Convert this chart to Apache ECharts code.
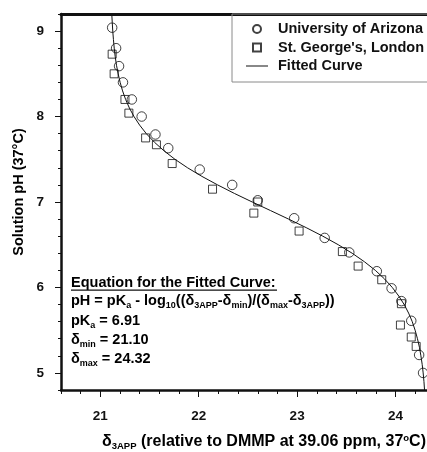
<!DOCTYPE html>
<html>
<head>
<meta charset="utf-8">
<script src="https://cdn.jsdelivr.net/npm/echarts@6/dist/echarts.min.js"></script>
<style>
  html, body { margin: 0; padding: 0; background: #ffffff; }
  #chart { width: 427px; height: 452px; }
</style>
</head>
<body>
<div id="chart"></div>
<script>
// 3APP chemical shift (ppm) vs. solution pH at 37 °C
const arizonaShift = [21.12, 21.16, 21.19, 21.23, 21.32, 21.42, 21.56, 21.69, 22.01, 22.34,
                      22.60, 22.97, 23.28, 23.53, 23.81, 23.96, 24.06, 24.16, 24.24, 24.28];
const arizonaPH    = [9.04, 8.80, 8.59, 8.40, 8.20, 8.00, 7.79, 7.63, 7.38, 7.20,
                      7.02, 6.81, 6.58, 6.41, 6.19, 5.99, 5.84, 5.61, 5.21, 5.00];

const londonShift  = [21.12, 21.14, 21.25, 21.29, 21.46, 21.57, 21.73, 22.14, 22.56, 22.60,
                      23.02, 23.46, 23.62, 23.86, 24.06, 24.05, 24.16, 24.21];
const londonPH     = [8.73, 8.50, 8.20, 8.04, 7.75, 7.67, 7.45, 7.15, 6.87, 7.00,
                      6.66, 6.42, 6.25, 6.09, 5.81, 5.56, 5.42, 5.31];

// fitted titration curve (pKa 6.91, δmin 21.10, δmax 24.32)
const curveShift = [21.116, 21.121, 21.126, 21.133, 21.141, 21.151, 21.164, 21.181, 21.201, 21.226,
                    21.257, 21.295, 21.342, 21.399, 21.467, 21.549, 21.646, 21.758, 21.887, 22.032,
                    22.192, 22.363, 22.544, 22.729, 22.913, 23.092, 23.261, 23.418, 23.560, 23.685,
                    23.795, 23.888, 23.967, 24.033, 24.088, 24.133, 24.170, 24.199, 24.223, 24.243,
                    24.258, 24.271, 24.281, 24.289, 24.295];
const curvePH    = [9.2, 9.1, 9.0, 8.9, 8.8, 8.7, 8.6, 8.5, 8.4, 8.3,
                    8.2, 8.1, 8.0, 7.9, 7.8, 7.7, 7.6, 7.5, 7.4, 7.3,
                    7.2, 7.1, 7.0, 6.9, 6.8, 6.7, 6.6, 6.5, 6.4, 6.3,
                    6.2, 6.1, 6.0, 5.9, 5.8, 5.7, 5.6, 5.5, 5.4, 5.3,
                    5.2, 5.1, 5.0, 4.9, 4.8];

const xMajorTicks = [21, 22, 23, 24];
const yMajorTicks = [5, 6, 7, 8, 9];
const seriesNames = ['University of Arizona', "St. George's, London", 'Fitted Curve'];

const FONT = '"Liberation Sans", Arial, Helvetica, sans-serif';
const INK = '#111111';

const pairs = (xs, ys) => xs.map((x, i) => [x, ys[i]]);

const xRange = { min: 20.6, max: 24.32 };
const yRange = { min: 4.8, max: 9.2 };

const boldText = (size, extra) => Object.assign({
  fontFamily: FONT, fontWeight: 'bold', fontSize: size, color: INK
}, extra || {});

// rich-text styles for the equation block
const eqRich = {
  m: boldText(14.5, { lineHeight: 18, verticalAlign: 'middle' }),
  s: boldText(9, { lineHeight: 9, verticalAlign: 'bottom' }),
  u: boldText(14.5, { lineHeight: 18, verticalAlign: 'middle' })
};

function eqLine(text, baseline) {
  return {
    type: 'text', x: 71, y: baseline - 14, silent: true,
    style: { text: text, rich: eqRich, align: 'left', verticalAlign: 'top' }
  };
}

const chart = echarts.init(document.getElementById('chart'), null, { renderer: 'canvas' });

chart.setOption({
  animation: false,
  backgroundColor: '#ffffff',
  grid: { left: 61, right: 0, top: 14, bottom: 62, containLabel: false },
  xAxis: [
    { // minor ticks + bottom frame line
      type: 'value', position: 'bottom', min: xRange.min, max: xRange.max, interval: 0.2,
      axisLine: { show: true, onZero: false, lineStyle: { color: INK, width: 2.5 } },
      axisTick: { show: true, length: 4, lineStyle: { color: INK, width: 1 } },
      axisLabel: { show: false }, splitLine: { show: false }
    },
    { // major ticks and labels
      type: 'value', position: 'bottom', min: xRange.min, max: xRange.max,
      axisLine: { show: false, onZero: false },
      axisTick: { show: true, length: 7, customValues: xMajorTicks, lineStyle: { color: INK, width: 1 } },
      axisLabel: Object.assign({ show: true, margin: 19, customValues: xMajorTicks }, boldText(13.5)),
      splitLine: { show: false }
    },
    { // top frame line
      type: 'value', position: 'top', min: xRange.min, max: xRange.max,
      axisLine: { show: true, onZero: false, lineStyle: { color: INK, width: 3 } },
      axisTick: { show: false }, axisLabel: { show: false }, splitLine: { show: false }
    }
  ],
  yAxis: [
    { // minor ticks + left frame line
      type: 'value', position: 'left', min: yRange.min, max: yRange.max, interval: 0.2,
      axisLine: { show: true, onZero: false, lineStyle: { color: INK, width: 2.5 } },
      axisTick: { show: true, length: 3, lineStyle: { color: INK, width: 1 } },
      axisLabel: { show: false }, splitLine: { show: false }
    },
    { // major ticks and labels
      type: 'value', position: 'left', min: yRange.min, max: yRange.max,
      axisLine: { show: false, onZero: false },
      axisTick: { show: true, length: 6, customValues: yMajorTicks, lineStyle: { color: INK, width: 1 } },
      axisLabel: Object.assign({ show: true, margin: 17, customValues: yMajorTicks }, boldText(13.5)),
      splitLine: { show: false }
    }
  ],
  legend: {
    orient: 'vertical', left: 232, top: 14,
    padding: [7, 14, 8, 14],
    itemWidth: 22, itemHeight: 8, itemGap: 2.5,
    symbolKeepAspect: true,
    borderColor: '#8a8a8a', borderWidth: 1,
    textStyle: boldText(14.5, { lineHeight: 16, padding: [0, 0, 0, 5] }),
    data: [
      { name: seriesNames[0], icon: 'circle' },
      { name: seriesNames[1], icon: 'path://M0,0H10V10H0Z' },
      { name: seriesNames[2], icon: 'path://M0,0H22V1H0Z' }
    ]
  },
  series: [
    {
      name: seriesNames[0], type: 'scatter', xAxisIndex: 0, yAxisIndex: 0,
      symbol: 'circle', symbolSize: 9.5,
      itemStyle: { color: 'transparent', borderColor: INK, borderWidth: 1 },
      data: pairs(arizonaShift, arizonaPH), z: 3
    },
    {
      name: seriesNames[1], type: 'scatter', xAxisIndex: 0, yAxisIndex: 0,
      symbol: 'rect', symbolSize: 8,
      itemStyle: { color: 'transparent', borderColor: INK, borderWidth: 1 },
      data: pairs(londonShift, londonPH), z: 3
    },
    {
      name: seriesNames[2], type: 'line', xAxisIndex: 0, yAxisIndex: 0,
      symbol: 'none', smooth: false,
      lineStyle: { color: INK, width: 1 },
      itemStyle: { color: INK },
      data: pairs(curveShift, curvePH), z: 2
    }
  ],
  graphic: [
    { // y axis title
      type: 'text', x: 19, y: 192, rotation: Math.PI / 2, silent: true,
      style: Object.assign({ text: 'Solution pH (37°C)', align: 'center', verticalAlign: 'middle' },
                           boldText(14.5))
    },
    { // x axis title
      type: 'text', x: 264, y: 433, silent: true,
      style: {
        text: '{m|δ}{s|3APP}{m| (relative to DMMP at 39.06 ppm, 37}{p|o}{m|C)}',
        align: 'center', verticalAlign: 'top',
        rich: {
          m: boldText(16, { lineHeight: 18, verticalAlign: 'middle' }),
          s: boldText(9.5, { lineHeight: 9, verticalAlign: 'bottom' }),
          p: boldText(9.5, { lineHeight: 9, verticalAlign: 'top' })
        }
      }
    },
    eqLine('{u|Equation for the Fitted Curve:}', 288),
    { // underline of the equation heading
      type: 'rect', silent: true,
      shape: { x: 71, y: 289.5, width: 206, height: 1.2 },
      style: { fill: INK }
    },
    eqLine('{m|pH = pK}{s|a}{m| - log}{s|10}{m|((δ}{s|3APP}{m|-δ}{s|min}{m|)/(δ}{s|max}{m|-δ}{s|3APP}{m|))}', 306),
    eqLine('{m|pK}{s|a}{m| = 6.91}', 326),
    eqLine('{m|δ}{s|min}{m| = 21.10}', 345),
    eqLine('{m|δ}{s|max}{m| = 24.32}', 364)
  ]
});
</script>
</body>
</html>
